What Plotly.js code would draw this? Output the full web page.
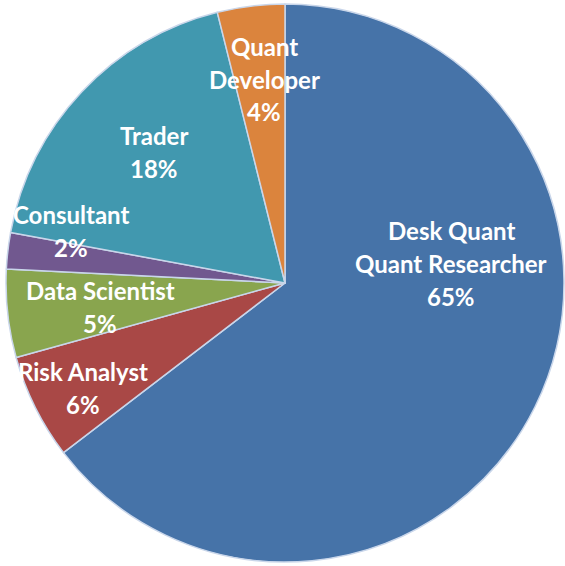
<!DOCTYPE html>
<html>
<head>
<meta charset="utf-8">
<script src="https://cdn.plot.ly/plotly-3.0.1.min.js"></script>
<style>html,body{margin:0;padding:0;background:#fff;}#chart{width:565px;height:566px;}</style>
</head>
<body>
<div id="chart"></div>
<script>
// Data
var labels = ["Desk Quant<br>Quant Researcher", "Risk Analyst", "Data Scientist", "Consultant", "Trader", "Quant Developer"];
var displayLabels = ["Desk Quant<br>Quant Researcher", "Risk Analyst", "Data Scientist", "Consultant", "Trader", "Quant<br>Developer"];
var values = [64.6, 6.1, 5.1, 2.1, 18.2, 3.9];
var colors = ["#4673A8", "#A94846", "#89A54E", "#71588F", "#4198AF", "#DB843D"];

// Label placement (style, in pixels within the 565x566 page)
var labelPos = [[451, 263], [83, 388], [100, 307], [71, 231], [154, 152], [264, 79]];
var W = 565, H = 566, LINE = 33;

var total = values.reduce(function(a, b){ return a + b; }, 0);
var annotations = [];
for (var i = 0; i < values.length; i++) {
  var lines = displayLabels[i].split("<br>");
  lines.push(Math.round(values[i] / total * 100) + "%");
  var n = lines.length;
  for (var k = 0; k < n; k++) {
    var py = labelPos[i][1] + (k - (n - 1) / 2) * LINE;
    annotations.push({
      text: lines[k], showarrow: false, xref: "paper", yref: "paper",
      x: labelPos[i][0] / W, y: 1 - py / H, xanchor: "center", yanchor: "middle",
      font: {family: "Lato, 'Open Sans', sans-serif", size: 24, color: "#ffffff", weight: "bold"}
    });
  }
}

var trace = {
  type: "pie",
  labels: labels,
  values: values,
  sort: false,
  direction: "clockwise",
  rotation: 0,
  textinfo: "none",
  hoverinfo: "label+percent",
  marker: {colors: colors, line: {color: "#C9D6EA", width: 1.5}},
  domain: {x: [6 / W, 564 / W], y: [1 - 562 / H, 1 - 4 / H]}
};

var layout = {
  width: W, height: H,
  margin: {l: 0, r: 0, t: 0, b: 0},
  showlegend: false,
  paper_bgcolor: "#ffffff",
  annotations: annotations
};

Plotly.newPlot("chart", [trace], layout, {displayModeBar: false, staticPlot: true});
</script>
</body>
</html>
